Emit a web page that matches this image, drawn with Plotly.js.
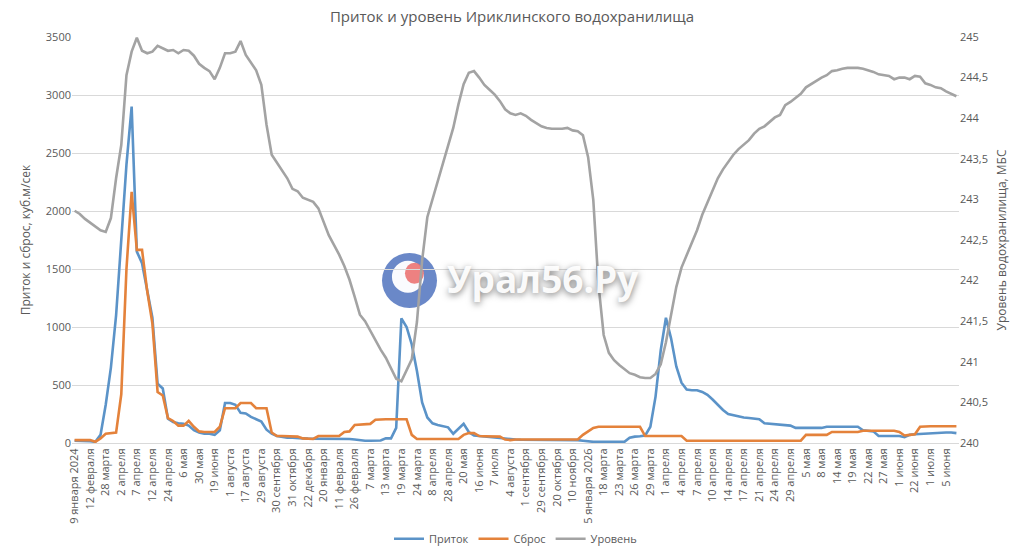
<!DOCTYPE html>
<html>
<head>
<meta charset="utf-8">
<script src="https://cdn.plot.ly/plotly-3.0.1.min.js"></script>
<style>html,body{margin:0;padding:0;background:#fff;}#chart{width:1024px;height:551px;}</style>
</head>
<body>
<div id="chart"></div>
<script>
// Tick labels (one label for every 3rd category)
const tickLabels = [
  "9 января 2024","12 февраля","28 марта","2 апреля","7 апреля","12 апреля","24 апреля","6 мая","30 мая","19 июня",
  "1 августа","17 августа","29 августа","30 сентября","31 октября","22 декабря","20 января","11 февраля","26 февраля","7 марта",
  "13 марта","19 марта","24 марта","8 апреля","28 апреля","20 мая","16 июня","7 июля","4 августа","1 сентября",
  "29 сентября","20 октября","10 ноября","15 января 2026","18 марта","23 марта","26 марта","29 марта","1 апреля","4 апреля",
  "7 апреля","10 апреля","14 апреля","17 апреля","21 апреля","24 апреля","29 апреля","5 мая","8 мая","14 мая",
  "19 мая","22 мая","27 мая","1 июня","22 июня","1 июля","5 июня"
];
const labelStep = 3;

// Приток, куб.м/сек
const inflow = [
  20,20,20,15,10,70,330,650,1100,1740,
  2400,2900,1650,1550,1310,1080,510,470,210,180,
  170,165,150,110,90,80,80,70,110,345,
  345,330,260,255,225,205,185,115,80,60,
  50,45,45,40,40,38,38,38,38,38,
  38,35,35,35,30,22,20,20,20,22,
  40,40,130,1075,1000,850,620,350,220,170,
  155,145,135,80,120,165,95,65,60,55,
  50,45,40,35,30,30,28,28,25,25,
  28,28,25,25,28,28,28,25,20,12,
  10,10,10,10,10,10,10,45,55,58,
  65,140,400,800,1080,900,660,520,460,455,
  455,440,415,375,330,285,250,240,228,220,
  215,210,205,170,165,162,160,155,150,130,
  130,130,130,130,130,140,140,140,140,140,
  140,140,110,105,100,60,60,60,60,60,
  50,70,75,78,82,86,90,90,90,90,
  85
];

// Сброс, куб.м/сек
const release = [
  25,25,25,25,10,40,80,85,90,420,
  1500,2165,1665,1665,1310,1030,440,410,215,190,
  150,150,190,140,100,95,95,95,140,300,
  300,300,345,345,345,300,300,300,90,60,
  60,58,58,55,40,35,35,60,60,60,
  60,60,95,100,155,160,160,165,200,205,
  205,205,205,205,205,70,35,35,35,35,
  35,35,35,35,35,70,85,85,60,58,
  58,55,55,30,25,30,30,30,30,30,
  30,30,30,30,30,30,30,30,70,100,
  130,140,140,140,140,140,140,140,140,140,
  60,60,60,60,60,60,60,60,20,20,
  20,20,20,20,20,20,20,20,20,20,
  20,20,20,20,20,20,20,20,20,20,
  20,70,70,70,70,70,95,95,95,95,
  95,95,105,105,105,105,105,105,105,95,
  65,70,75,140,145,145,145,145,145,145,
  145
];

// Уровень водохранилища, м БС
const level = [
  242.86,242.82,242.76,242.71,242.67,242.62,242.60,242.77,243.26,243.67,
  244.53,244.82,244.99,244.83,244.80,244.82,244.89,244.86,244.83,244.84,
  244.80,244.84,244.83,244.77,244.67,244.62,244.58,244.48,244.62,244.80,
  244.80,244.82,244.95,244.78,244.69,244.59,244.41,243.92,243.55,243.45,
  243.36,243.26,243.13,243.10,243.02,242.99,242.97,242.89,242.72,242.56,
  242.44,242.32,242.18,242.01,241.80,241.58,241.50,241.38,241.26,241.15,
  241.05,240.92,240.79,240.76,240.90,241.03,241.49,242.25,242.78,243.00,
  243.23,243.46,243.68,243.88,244.17,244.42,244.56,244.58,244.50,244.41,
  244.35,244.29,244.21,244.11,244.06,244.04,244.06,244.03,243.98,243.94,
  243.90,243.88,243.87,243.87,243.87,243.88,243.85,243.84,243.79,243.52,
  242.99,241.95,241.33,241.11,241.02,240.96,240.91,240.86,240.84,240.81,
  240.80,240.80,240.85,240.97,241.24,241.60,241.92,242.16,242.32,242.46,
  242.62,242.81,242.96,243.10,243.26,243.37,243.46,243.55,243.62,243.67,
  243.73,243.81,243.87,243.90,243.95,244.01,244.04,244.16,244.20,244.25,
  244.30,244.38,244.42,244.47,244.50,244.53,244.58,244.59,244.61,244.62,
  244.62,244.62,244.61,244.59,244.57,244.54,244.53,244.52,244.48,244.50,
  244.50,244.48,244.52,244.51,244.43,244.41,244.38,244.37,244.33,244.30,
  244.27
];

const idx = inflow.map((_, i) => i);
const tickVals = tickLabels.map((_, j) => j * labelStep);

const FONT = '"Open Sans", "Noto Sans", sans-serif';
const TXT = '#595959';

const traces = [
  {x: idx, y: inflow, name: 'Приток', type: 'scatter', mode: 'lines',
   line: {color: '#5b93c8', width: 2.6}, yaxis: 'y'},
  {x: idx, y: release, name: 'Сброс', type: 'scatter', mode: 'lines',
   line: {color: '#e4823b', width: 2.6}, yaxis: 'y'},
  {x: idx, y: level, name: 'Уровень', type: 'scatter', mode: 'lines',
   line: {color: '#a3a3a3', width: 2.6}, yaxis: 'y2'}
];

const layout = {
  width: 1024, height: 551,
  margin: {l: 72, r: 65, t: 37, b: 108, autoexpand: false},
  paper_bgcolor: '#ffffff', plot_bgcolor: '#ffffff',
  separators: ', ',
  font: {family: FONT, color: TXT, size: 11},
  title: {text: 'Приток и уровень Ириклинского водохранилища',
          font: {family: FONT, size: 15, color: TXT}, x: 0.5, xanchor: 'center', y: 0.97, yanchor: 'middle', yref: 'container'},
  showlegend: true,
  legend: {orientation: 'h', x: 0.5, xanchor: 'center', y: -0.236, yanchor: 'middle',
           font: {family: FONT, size: 11, color: TXT}, itemwidth: 30, tracegroupgap: 0},
  xaxis: {range: [-0.5, inflow.length - 0.5], tickmode: 'array', tickvals: tickVals, ticktext: tickLabels,
          tickangle: -90, tickfont: {family: FONT, size: 11, color: TXT}, showgrid: false, automargin: false,
          showline: true, linecolor: '#d9d9d9', linewidth: 1, ticks: '', zeroline: false, fixedrange: true},
  yaxis: {range: [0, 3500], dtick: 500, tick0: 0, showgrid: true, gridcolor: '#d9d9d9', gridwidth: 1,
          zeroline: false, showline: false, ticks: '', automargin: false, tickfont: {family: FONT, size: 11, color: TXT},
          title: {text: 'Приток и сброс, куб.м/сек', font: {family: FONT, size: 12, color: TXT}, standoff: 12}},
  yaxis2: {range: [240, 245], dtick: 0.5, tick0: 240, overlaying: 'y', side: 'right', showgrid: false,
           zeroline: false, showline: false, ticks: '', automargin: false, tickfont: {family: FONT, size: 11, color: TXT},
           title: {text: 'Уровень водохранилища, МБС', font: {family: FONT, size: 12, color: TXT}, standoff: 10}},
  shapes: [
    {type: 'circle', xref: 'paper', yref: 'paper', x0: 0.3495, x1: 0.4115, y0: 0.3325, y1: 0.4680,
     fillcolor: 'rgba(80,115,190,0.85)', line: {width: 0}, layer: 'between'},
    {type: 'circle', xref: 'paper', yref: 'paper', x0: 0.3607, x1: 0.3968, y0: 0.3700, y1: 0.4490,
     fillcolor: 'rgba(255,255,255,0.97)', line: {width: 0}, layer: 'between'},
    {type: 'circle', xref: 'paper', yref: 'paper', x0: 0.3754, x1: 0.3968, y0: 0.3920, y1: 0.4440,
     fillcolor: 'rgba(235,115,115,0.9)', line: {width: 0}, layer: 'between'}
  ],
  annotations: [
    {text: '<b>Урал56.Ру</b>', xref: 'paper', yref: 'paper', x: 0.4205, y: 0.405, xanchor: 'left', yanchor: 'middle',
     showarrow: false, font: {family: FONT, size: 37, color: 'rgba(255,255,255,0.95)',
     shadow: '0px 2px 7px rgba(0,0,0,0.55)'}}
  ]
};

Plotly.newPlot('chart', traces, layout, {displayModeBar: false, staticPlot: true});
</script>
</body>
</html>
